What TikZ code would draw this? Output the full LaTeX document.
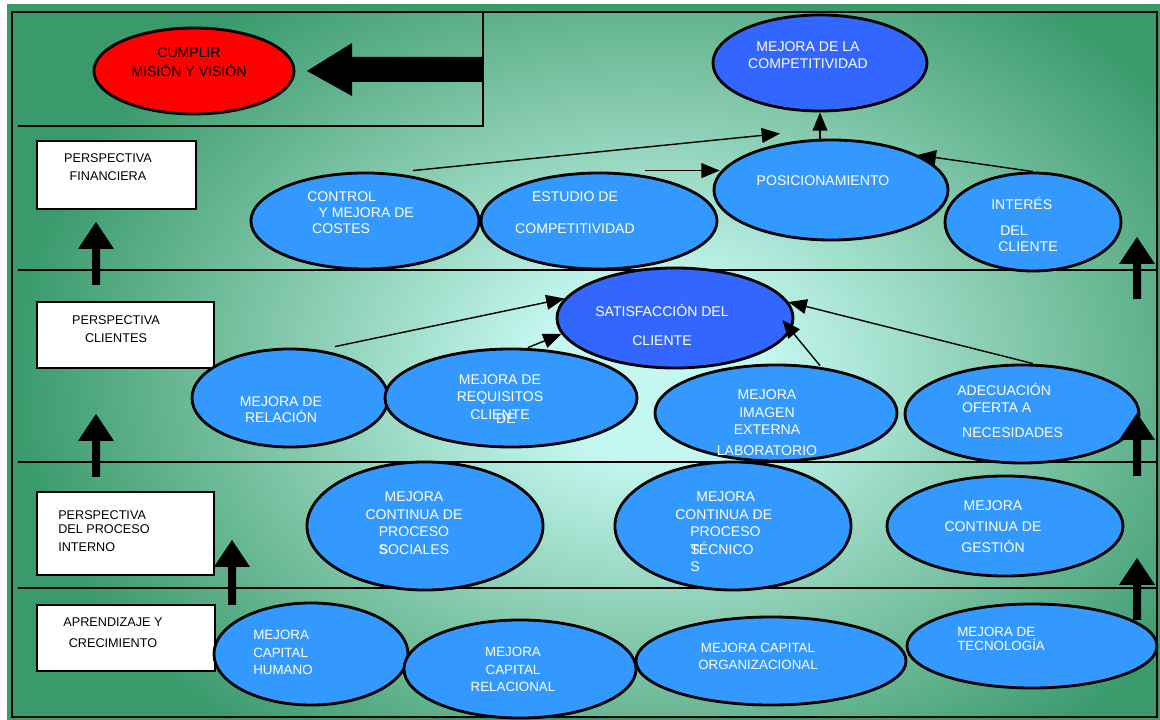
\documentclass[tikz,border=0pt]{standalone}
\usepackage{fontspec}
\setmainfont{Liberation Sans}
\usetikzlibrary{shapes.geometric,arrows.meta,calc}
\definecolor{bgdark}{HTML}{3A9A6C}
\definecolor{bgmid}{HTML}{80C6A8}
\definecolor{bglight}{HTML}{C4F7F0}
\definecolor{bubble}{HTML}{3399FF}
\definecolor{bubbledark}{HTML}{3366FF}
% the central 25bp radius is stretched onto the shaded path
\pgfdeclareradialshading{glow}{\pgfpoint{0bp}{0bp}}{color(0bp)=(bglight); color(4.5bp)=(bglight); color(15bp)=(bgmid); color(25bp)=(bgdark); color(50bp)=(bgdark)}
\begin{document}
\begin{tikzpicture}[x=0.025cm,y=-0.025cm,
  bub/.style={ellipse, draw=black, line width=2pt, fill=bubble, inner sep=0pt},
  sz/.style 2 args={minimum width=#1*0.05cm, minimum height=#2*0.05cm},
  bx/.style 2 args={rectangle, draw=black, line width=1.6pt, fill=white, inner sep=0pt,
    minimum width=#1*0.025cm, minimum height=#2*0.025cm},
  txt/.style={text=white, font=\fontsize{10}{12.5}\selectfont, inner sep=0pt, align=center},
  stxt/.style={txt, font=\fontsize{9.5}{12.5}\selectfont},
  btxt/.style={text=black, font=\fontsize{9}{12.6}\selectfont, inner sep=0pt, align=center},
  conn/.style={line width=1pt, -{Triangle[length=13pt,width=10.5pt]}},
  band/.style={line width=1.5pt},
  pics/uparr/.style={code={\fill[black] (-4,#1) -- (-4,27) -- (-18,27) -- (0,0) -- (18,27) -- (4,27) -- (4,#1) -- cycle;}}
]
\useasboundingbox (0,0) rectangle (1160,720);

% background with a soft light glow in the middle
\fill[bgdark] (7,4) rectangle (1160,720);
\begin{scope}
  \clip (12,12) rectangle (1157,717);
  \shade[shading=glow] (650,372) ellipse [x radius=640, y radius=470];
\end{scope}
\draw[line width=1.8pt] (12,12) rectangle (1157,717);

% mission corner and horizontal band separators
\draw[band] (483,12) -- (483,126) -- (18,126);
\draw[band] (18,270) -- (1157,270);
\draw[band] (18,462) -- (1157,462);
\draw[band] (18,588) -- (1157,588);

% perspective labels
\node[bx={159}{68}] (fin) at (116.5,175) {};
\node[btxt] (fin-t) at (108,167) {PERSPECTIVA\\FINANCIERA};
\node[bx={177}{66}] (cli) at (125.5,335) {};
\node[btxt] (cli-t) at (116,329) {PERSPECTIVA\\CLIENTES};
\node[bx={177}{83}] (pro) at (125.5,533.5) {};
\node[btxt, align=left, anchor=west] (pro-t) at (58,531) {PERSPECTIVA\\[-2.6pt]DEL PROCESO\\[0.3pt]INTERNO};
\node[bx={178}{66}] (apr) at (126,638) {};
\node[btxt] (apr-t) at (113,632.5) {APRENDIZAJE Y\\[2.3pt]CRECIMIENTO};

% mission
\node[bub, fill=red, sz={100}{43}] (goal) at (194,71) {};
\node[btxt, font=\fontsize{10}{13.5}\selectfont] (goal-t) at (189,62) {CUMPLIR\\MISIÓN Y VISIÓN};

% financial perspective
\node[bub, fill=bubbledark, sz={107}{48}] (comp) at (820,63) {};
\node[txt] (comp-t) at (808,55) {MEJORA DE LA\\COMPETITIVIDAD};
\node[bub, sz={117}{50}] (pos) at (831,190) {};
\node[txt] (pos-t) at (823,181) {POSICIONAMIENTO};
\node[bub, sz={114}{48}] (ctrl) at (365,221) {};
\node[txt, align=left, anchor=west] (ctrl-t) at (307,213) {CONTROL\\[-1.1pt]\hspace*{8pt}Y MEJORA DE\\[-1.1pt]\hspace*{3.5pt}COSTES};
\node[bub, sz={118}{48}] (est) at (599,221) {};
\node[txt] (est-t) at (575,213) {ESTUDIO DE\\[10.3pt]COMPETITIVIDAD};
\node[bub, sz={88}{49}] (int) at (1033,222) {};
\node[txt, align=left, anchor=west] (int-t) at (991,224.5) {INTERÉS\\[5.3pt]\hspace*{6.4pt}DEL\\[-1.1pt]\hspace*{5pt}CLIENTE};

% customer perspective
\node[bub, fill=bubbledark, sz={118}{50}] (sat) at (675,318) {};
\node[txt] (sat-t) at (662,325) {SATISFACCIÓN DEL\\[8.8pt]CLIENTE};
\node[bub, sz={98}{49}] (rel) at (290,398) {};
\node[txt] (rel-t) at (281,410) {MEJORA DE\\[-1.1pt]RELACIÓN};
\node[bub, sz={126}{49}] (req) at (511,398) {};
\node[txt] (req-t) at (500,397) {MEJORA DE\\REQUISITOS\\CLIENTE};
\node[txt] (req-de) at (506,419) {DE};
\node[bub, sz={121}{48}] (img) at (776,413) {};
\node[txt] (img-t) at (767,423) {MEJORA\\IMAGEN\\EXTERNA\\[2.4pt]LABORATORIO};
\node[bub, sz={117}{49}] (ade) at (1022,414) {};
\node[txt, align=left, anchor=west] (ade-t) at (957,410.5) {ADECUACIÓN\\[-1.1pt]\hspace*{3.5pt}OFERTA A\\[5.3pt]\hspace*{3.5pt}NECESIDADES};

% internal process perspective
\node[bub, sz={118}{64}] (soc) at (425,526) {};
\node[txt] (soc-t) at (414,523) {MEJORA\\CONTINUA DE\\PROCESO\\\textbf{S}OCIALES};
\node[bub, sz={118}{64}] (tec) at (733,526) {};
\node[txt, align=left, anchor=west] (tec-t) at (675,532) {\hspace*{15pt}MEJORA\\CONTINUA DE\\\hspace*{10.7pt}PROCESO\\\hspace*{10.7pt}\rlap{S}TÉCNICO\\\hspace*{10.7pt}S};
\node[bub, sz={118}{50}] (ges) at (1005,526) {};
\node[txt] (ges-t) at (993,527) {MEJORA\\[2.5pt]CONTINUA DE\\[2.5pt]GESTIÓN};

% learning and growth perspective
\node[bub, sz={97}{51}] (hum) at (311,654) {};
\node[stxt, align=left, anchor=west] (hum-t) at (253,652.5) {MEJORA\\CAPITAL\\HUMANO};
\node[bub, sz={116}{49}] (rcap) at (520,669) {};
\node[stxt] (rcap-t) at (513,669.5) {MEJORA\\CAPITAL\\RELACIONAL};
\node[bub, sz={135}{44}] (org) at (771,661) {};
\node[stxt] (org-t) at (758,656.5) {MEJORA CAPITAL\\ORGANIZACIONAL};
\node[bub, sz={125}{42}] (tecn) at (1032,646) {};
\node[stxt, align=left, anchor=west] (tecn-t) at (957,639) {MEJORA DE\\[-2.5pt]TECNOLOGÍA};

% cause-effect links
\coordinate (estout) at ($(est.north)+(46,-1)$);
\draw[conn] (comp.south |- pos.north) -- (comp.south);
\draw[conn] ($(ctrl.north)+(48,-1)$) -- ($(pos.north)+(-51,-5)$);
\draw[conn] (estout) -- (estout -| pos.171);
\draw[conn] (int.north) -- (pos.22);
\draw[conn] ($(rel.north)+(45,-1)$) -- (sat.170);
\draw[conn] ($(req.north)+(17,0)$) -- (sat.188);
\draw[conn] ($(img.north)+(44,2)$) -- ($(sat.east)+(-12,2)$);
\draw[conn] ($(ade.north)+(11,0)$) -- (sat.8);

% block arrows
\fill[black] (483,57) -- (352,57) -- (352,43) -- (307,71) -- (352,96) -- (352,82) -- (483,82) -- cycle;
\pic at (96,222) {uparr=63};
\pic at (96,414) {uparr=63};
\pic at (232,540) {uparr=65};
\pic at (1137,237) {uparr=62};
\pic at (1137,413) {uparr=63};
\pic at (1137,558) {uparr=62};
\end{tikzpicture}
\end{document}
